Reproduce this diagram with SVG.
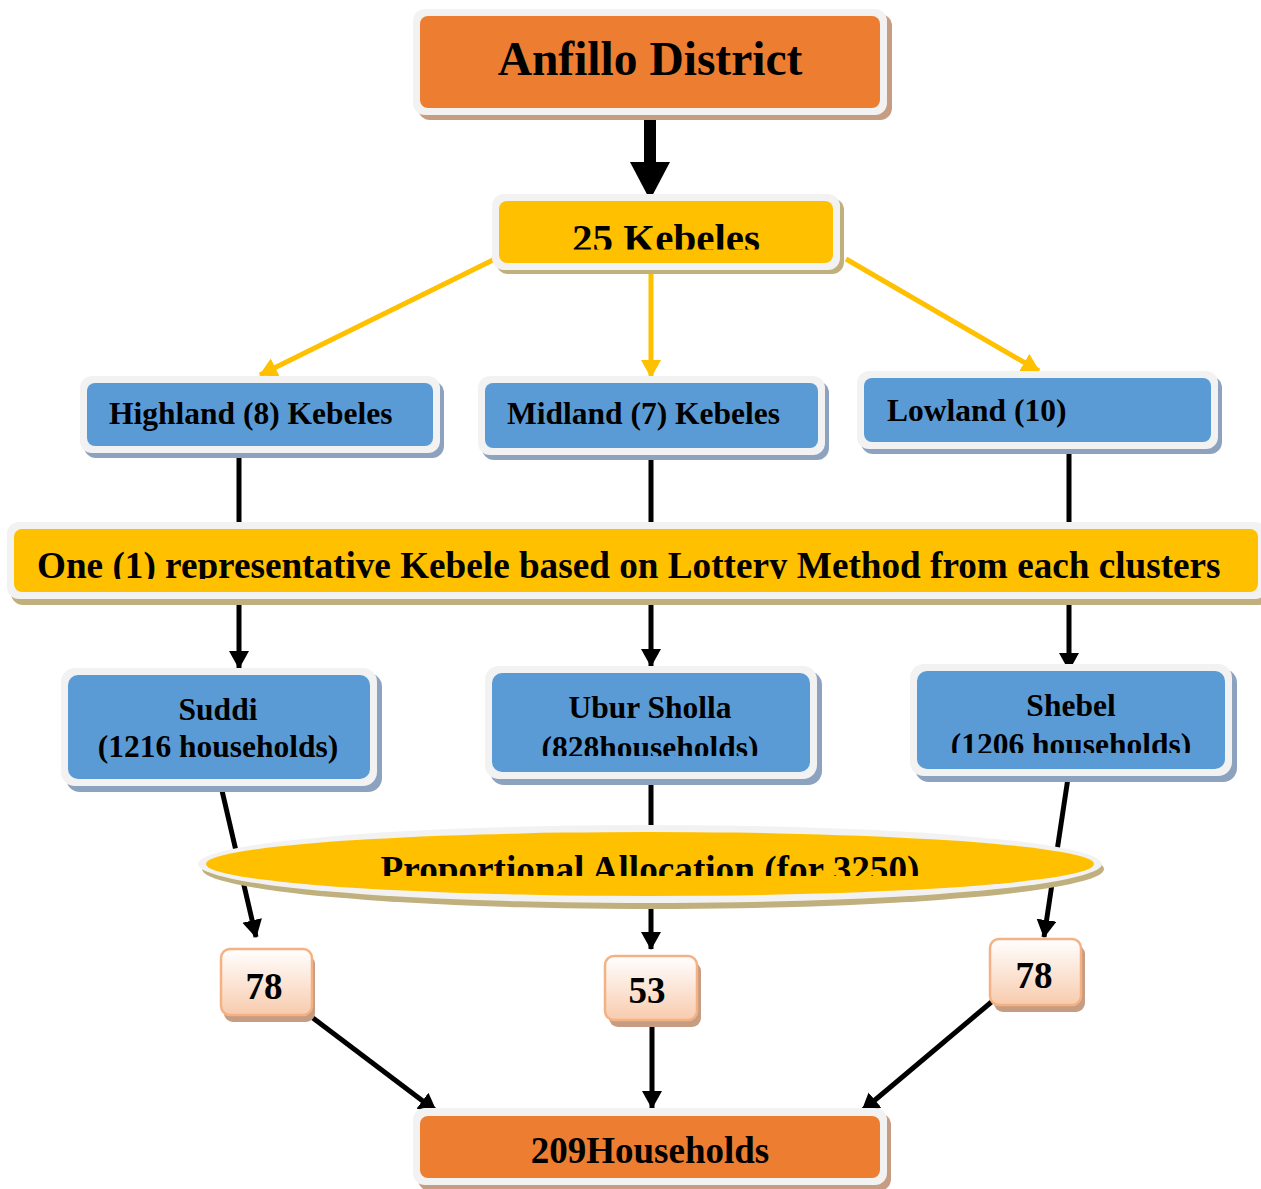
<svg xmlns="http://www.w3.org/2000/svg" width="1261" height="1189" viewBox="0 0 1261 1189">
<style>
text{font-family:"Liberation Serif","Times New Roman",serif;font-weight:bold;fill:#000}
.c{text-anchor:middle}
.frame{fill:#f2f2f2}
.org{fill:#ed7d31}
.yel{fill:#ffc000}
.blu{fill:#5b9bd5}
.sh-o{fill:#c69c82}
.sh-y{fill:#c0b07e}
.sh-b{fill:#8ca2bf}
.blk{stroke:#000;stroke-width:5;fill:none}
.ylw{stroke:#ffc000;stroke-width:5;fill:none}
.num{fill:url(#peach);stroke:#f4b183;stroke-width:2.5}
</style>
<defs>
<marker id="ab" markerUnits="userSpaceOnUse" markerWidth="22" markerHeight="22" refX="17" refY="10" orient="auto"><path d="M0,0 L18,10 L0,20 Z" fill="#000"/></marker>
<marker id="ay" markerUnits="userSpaceOnUse" markerWidth="22" markerHeight="22" refX="17" refY="10" orient="auto"><path d="M0,0 L18,10 L0,20 Z" fill="#ffc000"/></marker>
<linearGradient id="peach" x1="0" y1="0" x2="0" y2="1"><stop offset="0" stop-color="#ffffff"/><stop offset="1" stop-color="#f8cbad"/></linearGradient>
<clipPath id="ck"><rect x="0" y="0" width="1261" height="249.5"/></clipPath>
<clipPath id="cl"><rect x="0" y="0" width="1261" height="579"/></clipPath>
<clipPath id="cu"><rect x="0" y="0" width="1261" height="756"/></clipPath>
<clipPath id="cs"><rect x="0" y="0" width="1261" height="753"/></clipPath>
<clipPath id="ce"><rect x="0" y="0" width="1261" height="876"/></clipPath>
</defs>

<g id="connectors">
<line class="blk" x1="239" y1="450" x2="239" y2="668" marker-end="url(#ab)"/>
<line class="blk" x1="651" y1="452" x2="651" y2="666" marker-end="url(#ab)"/>
<line class="blk" x1="1069" y1="448" x2="1069" y2="670" marker-end="url(#ab)"/>
<line class="blk" x1="220" y1="782" x2="256" y2="937" marker-end="url(#ab)"/>
<line class="blk" x1="651" y1="778" x2="651" y2="949" marker-end="url(#ab)"/>
<line class="blk" x1="1068" y1="778" x2="1044" y2="937" marker-end="url(#ab)"/>
<line class="blk" x1="305" y1="1012" x2="436" y2="1111" marker-end="url(#ab)"/>
<line class="blk" x1="652" y1="1022" x2="652" y2="1108" marker-end="url(#ab)"/>
<line class="blk" x1="995" y1="999" x2="862" y2="1111" marker-end="url(#ab)"/>
<line class="ylw" x1="497" y1="258" x2="260" y2="375" marker-end="url(#ay)"/>
<line class="ylw" x1="651" y1="272" x2="651" y2="377" marker-end="url(#ay)"/>
<line class="ylw" x1="846" y1="259" x2="1039" y2="371" marker-end="url(#ay)"/>
<line x1="650" y1="116" x2="650" y2="165" stroke="#000" stroke-width="12"/>
<polygon points="630,162 670,162 650,200" fill="#000"/>
</g>

<g id="anfillo">
<rect class="sh-o" x="418" y="14" width="474" height="106" rx="12"/>
<rect class="frame" x="413" y="9" width="474" height="106" rx="12"/>
<rect class="org" x="420" y="16" width="460" height="92" rx="8"/>
<text class="c" x="650" y="75" font-size="47.5">Anfillo District</text>
</g>

<g id="kebeles25">
<rect class="sh-y" x="496" y="198" width="348" height="76" rx="12"/>
<rect class="frame" x="492" y="194" width="348" height="76" rx="12"/>
<rect class="yel" x="499" y="201" width="334" height="62" rx="8"/>
<text class="c" x="666" y="252" font-size="41" clip-path="url(#ck)">25 Kebeles</text>
</g>

<g id="highland">
<rect class="sh-b" x="84" y="381" width="360" height="77" rx="12"/>
<rect class="frame" x="80" y="376" width="360" height="77" rx="12"/>
<rect class="blu" x="87" y="383" width="346" height="63" rx="8"/>
<text x="109" y="424" font-size="31.5">Highland (8) Kebeles</text>
</g>

<g id="midland">
<rect class="sh-b" x="482" y="381" width="347" height="79" rx="12"/>
<rect class="frame" x="478" y="376" width="347" height="79" rx="12"/>
<rect class="blu" x="485" y="383" width="333" height="65" rx="8"/>
<text x="507" y="424" font-size="31.5">Midland (7) Kebeles</text>
</g>

<g id="lowland">
<rect class="sh-b" x="861" y="376" width="361" height="78" rx="12"/>
<rect class="frame" x="857" y="371" width="361" height="78" rx="12"/>
<rect class="blu" x="864" y="378" width="347" height="64" rx="8"/>
<text x="887" y="421" font-size="31.5">Lowland (10)</text>
</g>

<g id="lottery">
<rect class="sh-y" x="11" y="527" width="1260" height="78" rx="12"/>
<rect class="frame" x="7" y="522" width="1260" height="77" rx="12"/>
<rect class="yel" x="14" y="529" width="1244" height="63" rx="8"/>
<text x="37" y="578" font-size="37.2" clip-path="url(#cl)">One (1) representative Kebele based on Lottery Method from each clusters</text>
</g>

<g id="suddi">
<rect class="sh-b" x="66" y="673" width="316" height="119" rx="14"/>
<rect class="frame" x="61" y="668" width="316" height="118" rx="14"/>
<rect class="blu" x="68" y="675" width="302" height="104" rx="10"/>
<text class="c" x="218" y="720" font-size="31.5">Suddi</text>
<text class="c" x="218" y="757" font-size="31.5">(1216 households)</text>
</g>

<g id="ubur">
<rect class="sh-b" x="490" y="671" width="332" height="114" rx="14"/>
<rect class="frame" x="485" y="666" width="332" height="113" rx="14"/>
<rect class="blu" x="492" y="673" width="318" height="99" rx="10"/>
<text class="c" x="650" y="718" font-size="31.5">Ubur Sholla</text>
<text class="c" x="650" y="758" font-size="31.5" clip-path="url(#cu)">(828households)</text>
</g>

<g id="shebel">
<rect class="sh-b" x="915" y="669" width="322" height="113" rx="14"/>
<rect class="frame" x="910" y="664" width="322" height="112" rx="14"/>
<rect class="blu" x="917" y="671" width="308" height="98" rx="10"/>
<text class="c" x="1071" y="716" font-size="31.5">Shebel</text>
<text class="c" x="1071" y="755" font-size="31.5" clip-path="url(#cs)">(1206 households)</text>
</g>

<g id="allocation">
<ellipse class="sh-y" cx="653" cy="869" rx="451" ry="40"/>
<ellipse class="frame" cx="650" cy="864" rx="452" ry="39"/>
<ellipse class="yel" cx="650" cy="864" rx="444" ry="32"/>
<text class="c" x="650" y="882" font-size="37.2" clip-path="url(#ce)">Proportional Allocation (for 3250)</text>
</g>

<g id="n78a">
<rect class="sh-o" x="224" y="955" width="91" height="67" rx="9"/>
<rect class="num" x="221" y="949" width="91" height="66" rx="9"/>
<text class="c" x="264" y="999" font-size="37">78</text>
</g>

<g id="n53">
<rect class="sh-o" x="609" y="962" width="92" height="65" rx="9"/>
<rect class="num" x="605" y="956" width="92" height="64" rx="9"/>
<text class="c" x="647" y="1003" font-size="37">53</text>
</g>

<g id="n78b">
<rect class="sh-o" x="994" y="945" width="91" height="67" rx="9"/>
<rect class="num" x="990" y="939" width="91" height="66" rx="9"/>
<text class="c" x="1034" y="988" font-size="37">78</text>
</g>

<g id="households">
<rect class="sh-o" x="418" y="1113" width="473" height="78" rx="12"/>
<rect class="frame" x="413" y="1108" width="474" height="77" rx="12"/>
<rect class="org" x="420" y="1116" width="460" height="62" rx="8"/>
<text class="c" x="650" y="1163" font-size="37">209Households</text>
</g>
</svg>
